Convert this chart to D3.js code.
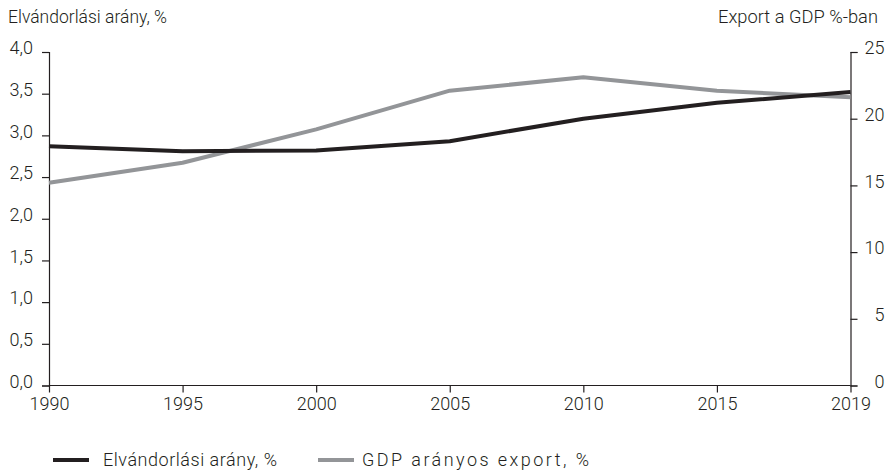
<!DOCTYPE html>
<html><head><meta charset="utf-8">
<script src="https://cdn.jsdelivr.net/npm/d3@7"></script>
<style>
body{margin:0;background:#fff;}
text{font-family:Roboto,"Noto Sans",sans-serif;font-weight:300;fill:#231f20;}
</style></head>
<body><svg id="c" width="887" height="472"></svg>
<script>
const years = ["1990","1995","2000","2005","2010","2015","2019"];
const emigration = [2.87, 2.81, 2.82, 2.93, 3.20, 3.39, 3.52];
const exportGdp = [15.2, 16.7, 19.2, 22.1, 23.1, 22.1, 21.6];
const leftTicks = [0,0.5,1,1.5,2,2.5,3,3.5,4];
const rightTicks = [0,5,10,15,20,25];
const leftTitle = "Elvándorlási arány, %";
const rightTitle = "Export a GDP %-ban";
const legendLabels = ["Elvándorlási arány, %", "GDP arányos export, %"];

const svg = d3.select("#c");
const L = 49, R = 850.5, T = 52, B = 385.5;
const x = d3.scalePoint().domain(years).range([L, R]);
const yL = d3.scaleLinear().domain([0,4]).range([B,T]);
const yR = d3.scaleLinear().domain([0,25]).range([B,T]);
const fmt = d => d3.format(".1f")(d).replace(".", ",");

const axStyle = g => {
  g.selectAll(".domain").attr("stroke","#231f20").attr("stroke-width",1.2);
  g.selectAll(".tick line").attr("stroke","#231f20").attr("stroke-width",1.2);
  g.selectAll(".tick text").attr("font-size",18).style("font-family","Roboto,sans-serif").style("font-weight",300).attr("fill","#231f20");
};

const gl = svg.append("g").attr("transform",`translate(${L},0)`)
  .call(d3.axisLeft(yL).tickValues(leftTicks).tickFormat(fmt).tickSizeOuter(0).tickSize(7).tickPadding(9))
  .call(axStyle);
gl.selectAll(".tick text").attr("dy","0.1em");
const gr = svg.append("g").attr("transform",`translate(${R},0)`)
  .call(d3.axisRight(yR).tickValues(rightTicks).tickSizeOuter(0).tickSize(7).tickPadding(8))
  .call(axStyle);
gr.selectAll(".tick text").attr("text-anchor","end").attr("x",34).attr("dy","0.1em");
svg.append("g").attr("transform",`translate(0,${B})`)
  .call(d3.axisBottom(x).tickSizeOuter(0).tickSize(7).tickPadding(5))
  .call(axStyle)
  .selectAll(".domain").attr("d",`M${L},0H${R}`);

const lineL = d3.line().x((d,i)=>x(years[i])).y(d=>yL(d));
const lineR = d3.line().x((d,i)=>x(years[i])).y(d=>yR(d));
svg.append("path").attr("d",lineR(exportGdp)).attr("fill","none").attr("stroke","#939598").attr("stroke-width",4).attr("stroke-linejoin","round");
svg.append("path").attr("d",lineL(emigration)).attr("fill","none").attr("stroke","#231f20").attr("stroke-width",4).attr("stroke-linejoin","round");

svg.append("text").attr("x",8).attr("y",23).attr("font-size",18).attr("textLength",159).attr("lengthAdjust","spacingAndGlyphs").text(leftTitle);
svg.append("text").attr("x",878).attr("y",23).attr("font-size",18).attr("text-anchor","end").attr("textLength",160).attr("lengthAdjust","spacingAndGlyphs").text(rightTitle);

const leg = [{c:"#231f20",x0:53,tx:103,w:174},{c:"#939598",x0:318,tx:362,w:227}];
leg.forEach((l,i)=>{
  svg.append("line").attr("x1",l.x0).attr("x2",l.x0+36).attr("y1",460).attr("y2",460).attr("stroke",l.c).attr("stroke-width",4);
  svg.append("text").attr("x",l.tx).attr("y",466).attr("font-size",18).attr("textLength",l.w).text(legendLabels[i]);
});
</script></body></html>
